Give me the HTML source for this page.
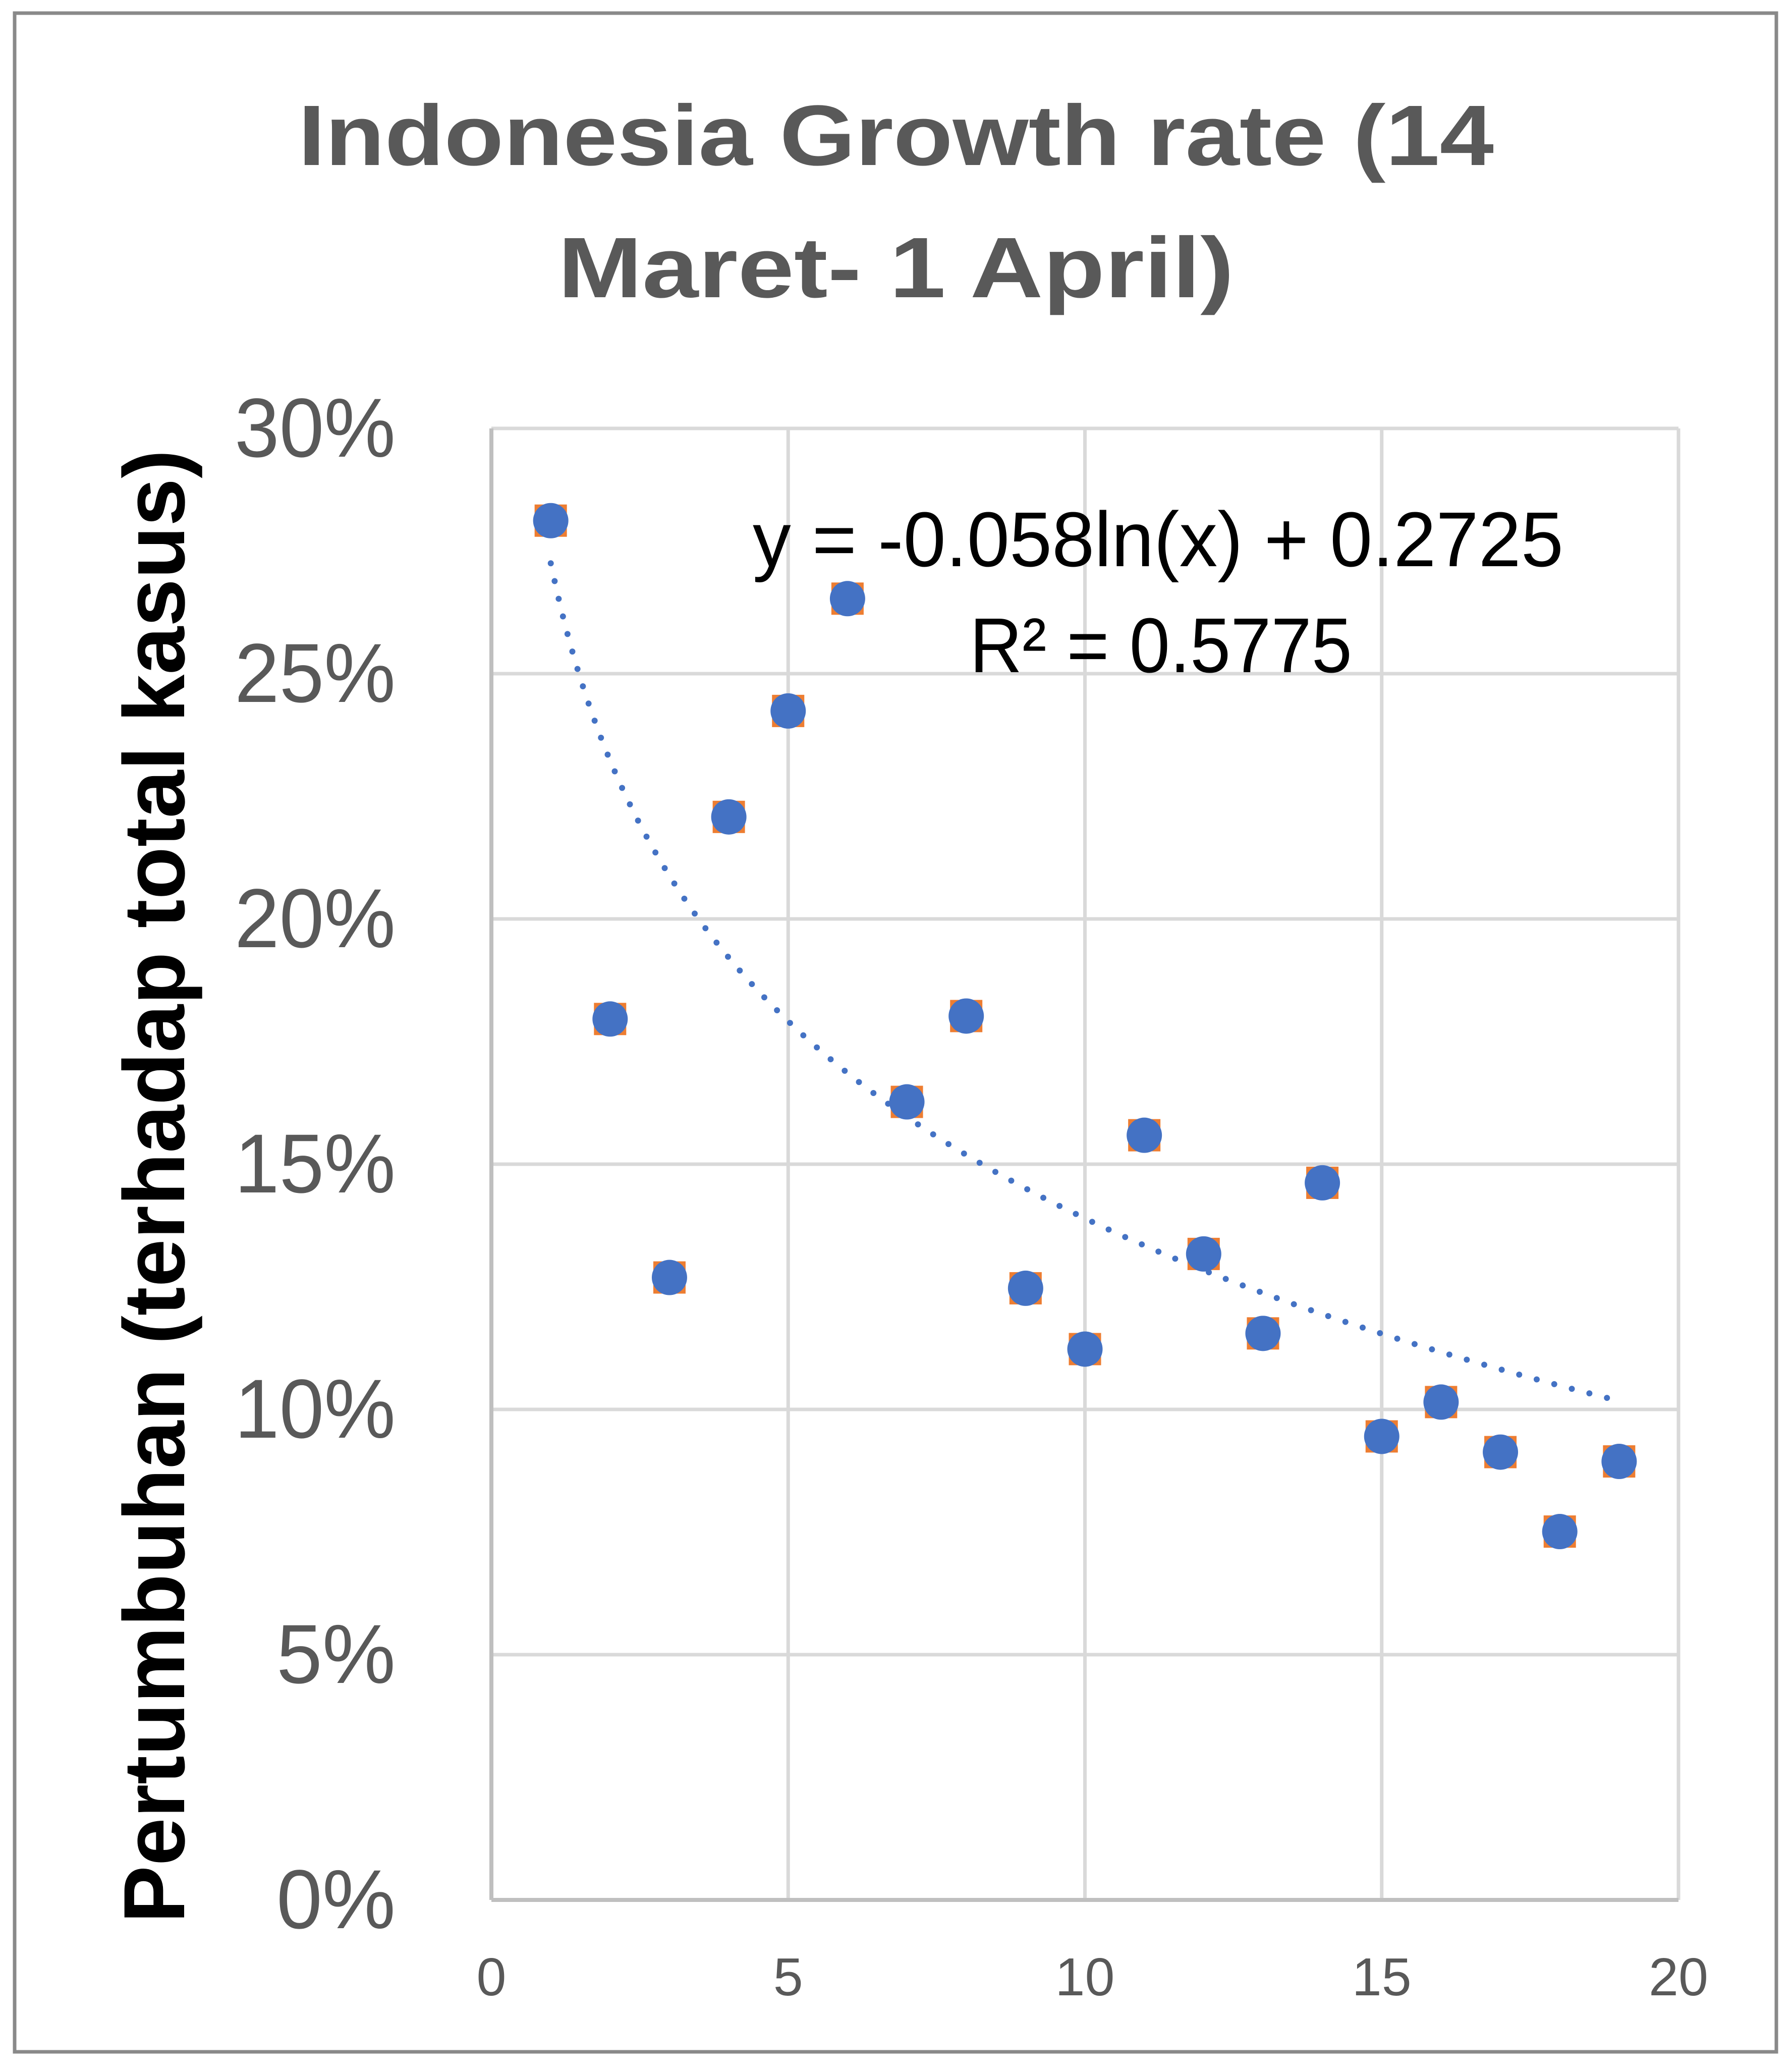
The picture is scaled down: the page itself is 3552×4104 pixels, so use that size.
<!DOCTYPE html>
<html><head><meta charset="utf-8"><style>
html,body{margin:0;padding:0;background:#fff;}
svg{display:block;}
text{font-family:"Liberation Sans",sans-serif;}
</style></head><body>
<svg id="chart" width="3552" height="4104" viewBox="0 0 3552 4104">
<rect x="29" y="26" width="3492" height="4040" fill="#fff" stroke="#898989" stroke-width="7"/>
<g fill="#595959" font-weight="bold" font-size="170" text-anchor="middle">
<text x="1776" y="327" textLength="2370" lengthAdjust="spacingAndGlyphs">Indonesia Growth rate (14</text>
<text x="1776" y="589" textLength="1340" lengthAdjust="spacingAndGlyphs">Maret- 1 April)</text>
</g>
<g id="grid"></g>
<g id="axes"></g>
<g id="trend"></g>
<g id="points"></g>
<text transform="translate(365,2351) rotate(-90)" text-anchor="middle" font-size="172" font-weight="bold" fill="#000" textLength="2920" lengthAdjust="spacingAndGlyphs">Pertumbuhan (terhadap total kasus)</text>
<g fill="#000" font-size="154">
<text x="1492" y="1122" textLength="1607" lengthAdjust="spacingAndGlyphs">y = -0.058ln(x) + 0.2725</text>
<text x="1922" y="1332" textLength="758" lengthAdjust="spacingAndGlyphs">R² = 0.5775</text>
</g>
</svg>
<script>
const xValues=[1,2,3,4,5,6,7,8,9,10,11,12,13,14,15,16,17,18,19];
const yValues=[28.12,17.96,12.69,22.08,24.24,26.53,16.27,18.02,12.47,11.23,15.59,13.17,11.55,14.62,9.45,10.15,9.13,7.51,8.94];
const yTicks=[0,5,10,15,20,25,30];
const xTicks=[0,5,10,15,20];
const trendA=-0.058, trendB=0.2725;
const NS="http://www.w3.org/2000/svg";
const X0=974,X1=3327,Y0=3765,Y1=849;
const sx=v=>X0+(v-0)/(20-0)*(X1-X0);
const sy=v=>Y0-(v-0)/(30-0)*(Y0-Y1);
function mk(tag,attrs,parent){const e=document.createElementNS(NS,tag);for(const k in attrs)e.setAttribute(k,attrs[k]);parent.appendChild(e);return e;}
const grid=document.getElementById('grid'),axes=document.getElementById('axes');
yTicks.forEach(t=>{
  if(t>0){const l=mk('line',{x1:X0,x2:X1,y1:sy(t),y2:sy(t),stroke:'#D9D9D9','stroke-width':7},grid);
  
  }
  const tx=mk('text',{x:784,y:sy(t)+56,'text-anchor':'end','font-size':166,fill:'#595959',textLength:t>=10?319:236,lengthAdjust:'spacingAndGlyphs'},axes);
  tx.textContent=t+'%';
  
  
});
xTicks.forEach(t=>{
  if(t>0){const l=mk('line',{x1:sx(t),x2:sx(t),y1:Y1,y2:Y0,stroke:'#D9D9D9','stroke-width':7},grid);
  
  }
  const tx=mk('text',{x:sx(t),y:3954,'text-anchor':'middle','font-size':106,fill:'#595959'},axes);
  tx.textContent=t;
  
  
});
const ax=mk('line',{x1:X0,x2:X1,y1:Y0,y2:Y0,stroke:'#BFBFBF','stroke-width':8},axes);


const ay=mk('line',{x1:X0,x2:X0,y1:Y1,y2:Y0,stroke:'#BFBFBF','stroke-width':8},axes);


// trendline
let d='';
for(let i=0;i<=180;i++){const x=1+i*(18/180);const y=(trendA*Math.log(x)+trendB)*100;d+=(i?'L':'M')+sx(x).toFixed(1)+' '+sy(y).toFixed(1);}
const tp=mk('path',{d:d,fill:'none',stroke:'#4472C4','stroke-width':12,'stroke-linecap':'round','stroke-dasharray':'0 36'},document.getElementById('trend'));


const pts=document.getElementById('points');
xValues.forEach((x,i)=>{
  const cx=sx(x),cy=sy(yValues[i]);
  const r=mk('rect',{x:cx-32,y:cy-32,width:64,height:64,fill:'#ED7D31'},pts);
  
  
  const c=mk('circle',{cx:cx,cy:cy,r:35,fill:'#4472C4'},pts);
  
  
});
</script>
</body></html>
